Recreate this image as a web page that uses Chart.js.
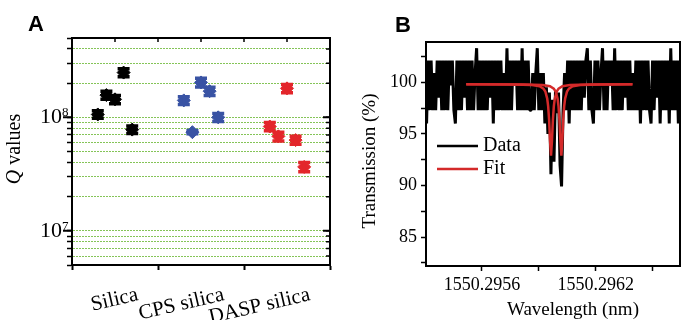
<!DOCTYPE html>
<html>
<head>
<meta charset="utf-8">
<script src="https://cdn.jsdelivr.net/npm/chart.js@4.4.0/dist/chart.umd.min.js"></script>
<style>
  html, body { margin: 0; padding: 0; background: #fff; }
  #wrap { position: relative; width: 681px; height: 320px; overflow: hidden; }
  #boxA { position: absolute; left: 0; top: 0; width: 340px; height: 320px; }
  #boxB { position: absolute; left: 340px; top: 0; width: 341px; height: 320px; }
</style>
</head>
<body>
<div id="wrap">
  <div id="boxA"><canvas id="qChart"></canvas></div>
  <div id="boxB"><canvas id="transChart"></canvas></div>
</div>
<script>
// panel A: Q values per material (5 devices each)
const categories = ['Silica', 'CPS silica', 'DASP silica'];
const sampleOffset = [-0.2, -0.1, 0, 0.1, 0.2];
const silicaQ = [1.06e8, 1.57e8, 1.44e8, 2.48e8, 0.78e8];
const silicaErr = [0.08e8, 0.13e8, 0.12e8, 0.2e8, 0.06e8];
const cpsQ = [1.41e8, 0.74e8, 2.03e8, 1.70e8, 1.00e8];
const cpsErr = [0.11e8, 0.025e8, 0.18e8, 0.14e8, 0.08e8];
const daspQ = [0.83e8, 0.68e8, 1.80e8, 0.63e8, 0.366e8];
const daspErr = [0.07e8, 0.06e8, 0.15e8, 0.05e8, 0.035e8];
const qPowers = [7, 8];
const topTicksA = [0, 0.5, 1, 1.5, 2];

// panel B: transmission spectrum, sampled every 8 fm from 1550.2953 nm
const wlStart = 1550.2953;
const wlStep = 0.000008;
const transData = [
  102.1, 96.0, 102.1, 97.3, 102.1, 97.3, 100.9, 97.3, 102.1, 98.5,
  102.1, 97.3, 102.1, 97.3, 102.1, 97.3, 102.1, 99.7, 102.1, 97.3,
  96.0, 102.1, 97.3, 102.1, 97.3, 102.1, 98.5, 102.1, 97.3, 102.1,
  97.3, 102.1, 97.3, 100.9, 103.3, 97.3, 102.1, 97.3, 102.1, 97.3,
  102.1, 97.3, 102.1, 98.5, 102.1, 96.0, 102.1, 97.3, 102.1, 97.3,
  102.1, 97.3, 100.9, 97.3, 103.3, 97.3, 102.1, 97.3, 102.1, 99.7,
  102.1, 97.3, 102.1, 97.3, 103.3, 97.3, 102.1, 97.3, 102.1, 97.3,
  97.3, 100.9, 97.3, 100.9, 103.3, 97.3, 100.9, 97.3, 100.9, 96.0,
  99.5, 95.0, 99.0, 91.1, 98.3, 92.3, 99.2, 97.0, 99.0, 92.0,
  89.9, 97.3, 100.9, 97.3, 102.1, 96.0, 102.1, 97.3, 102.1, 97.3,
  102.1, 97.3, 102.1, 97.3, 102.1, 98.5, 102.1, 103.3, 97.3, 102.1,
  97.3, 96.0, 102.1, 97.3, 102.1, 97.3, 100.9, 103.3, 97.3, 102.1,
  97.3, 102.1, 99.7, 102.1, 97.3, 103.3, 97.3, 102.1, 97.3, 102.1,
  97.3, 102.1, 98.5, 102.1, 97.3, 102.1, 97.3, 100.9, 97.3, 102.1,
  97.3, 102.1, 96.0, 102.1, 97.3, 102.1, 97.3, 102.1, 97.3, 96.0,
  102.1, 97.3, 102.1, 98.5, 102.1, 96.0, 102.1, 97.3, 102.1, 97.3,
  102.1, 96.0, 103.3, 97.3, 102.1, 97.3, 102.1, 96.0, 102.1, 97.3, 102.1
];
const fitWl1 = [1550.295517, 1550.2957643, 1550.2958643, 1550.2959043, 1550.2959243, 1550.2959343,
  1550.2959443, 1550.2959493, 1550.2959543, 1550.2959593, 1550.2959643, 1550.2959693, 1550.2959743,
  1550.2959793, 1550.2959843, 1550.2959943, 1550.2960043, 1550.2960243, 1550.2960643, 1550.2961643, 1550.296394];
const fitT1 = [99.8, 99.78, 99.73, 99.61, 99.39, 99.11, 98.42, 97.68, 96.35, 94.28, 92.9,
  94.28, 96.35, 97.68, 98.42, 99.11, 99.39, 99.61, 99.73, 99.78, 99.8];
const fitWl2 = [1550.295517, 1550.2958189, 1550.2959189, 1550.2959589, 1550.2959789, 1550.2959889,
  1550.2959989, 1550.2960039, 1550.2960089, 1550.2960139, 1550.2960189, 1550.2960239, 1550.2960289,
  1550.2960339, 1550.2960389, 1550.2960489, 1550.2960589, 1550.2960789, 1550.2961189, 1550.2962189, 1550.296394];
const fitT2 = [99.8, 99.78, 99.73, 99.61, 99.39, 99.11, 98.42, 97.68, 96.35, 94.28, 92.9,
  94.28, 96.35, 97.68, 98.42, 99.11, 99.39, 99.61, 99.73, 99.78, 99.8];

const SERIF = '"Liberation Serif", "Times New Roman", serif';
const SANS = '"Liberation Sans", Arial, sans-serif';

// error bars with caps, drawn through the y scale
const errorBars = {
  id: 'errorBars',
  afterDatasetsDraw(chart) {
    const ctx = chart.ctx;
    const yScale = chart.scales.y;
    chart.data.datasets.forEach((ds, i) => {
      const meta = chart.getDatasetMeta(i);
      ctx.save();
      ctx.strokeStyle = ds.borderColor;
      ctx.lineWidth = 3.5;
      meta.data.forEach((pt, j) => {
        const v = ds.data[j].y;
        const e = ds.errors[j];
        const yTop = yScale.getPixelForValue(v + e);
        const yBot = yScale.getPixelForValue(v - e);
        ctx.beginPath();
        ctx.moveTo(pt.x, yTop); ctx.lineTo(pt.x, yBot);
        ctx.moveTo(pt.x - 6, yTop); ctx.lineTo(pt.x + 6, yTop);
        ctx.moveTo(pt.x - 6, yBot); ctx.lineTo(pt.x + 6, yBot);
        ctx.stroke();
      });
      ctx.restore();
    });
  }
};

const decorA = {
  id: 'decorA',
  afterDraw(chart) {
    const {ctx, chartArea: a, scales: {x, y}} = chart;
    ctx.save();
    // top / right frame with inward ticks
    ctx.strokeStyle = '#000';
    ctx.lineWidth = 2;
    ctx.beginPath();
    ctx.moveTo(a.left - 1, a.top); ctx.lineTo(a.right, a.top); ctx.lineTo(a.right, a.bottom + 1);
    ctx.stroke();
    ctx.lineWidth = 1.5;
    ctx.beginPath();
    topTicksA.forEach(v => {
      const px = x.getPixelForValue(v);
      ctx.moveTo(px, a.top); ctx.lineTo(px, a.top + 4);
    });
    y.ticks.forEach(t => {
      const py = y.getPixelForValue(t.value);
      ctx.moveTo(a.right, py); ctx.lineTo(a.right - 4, py);
    });
    ctx.stroke();
    // longer marks and labels for the decades
    ctx.lineWidth = 2;
    qPowers.forEach(p => {
      const py = y.getPixelForValue(Math.pow(10, p));
      ctx.beginPath();
      ctx.moveTo(a.left - 9, py); ctx.lineTo(a.left, py);
      ctx.moveTo(a.right, py); ctx.lineTo(a.right - 7, py);
      ctx.stroke();
      ctx.fillStyle = '#000';
      ctx.textAlign = 'right';
      ctx.textBaseline = 'middle';
      ctx.font = '22px ' + SERIF;
      ctx.fillText('10', a.left - 10, py);
      ctx.textAlign = 'left';
      ctx.textBaseline = 'alphabetic';
      ctx.font = '13px ' + SERIF;
      ctx.fillText(String(p), a.left - 10, py - 1);
    });
    // category labels, slightly rotated
    ctx.font = '21px ' + SERIF;
    ctx.fillStyle = '#000';
    categories.forEach((c, i) => {
      ctx.save();
      ctx.translate(x.getPixelForValue(i) + 24, 300);
      ctx.rotate(-13 * Math.PI / 180);
      ctx.textAlign = 'right';
      ctx.textBaseline = 'alphabetic';
      ctx.fillText(c, 0, 0);
      ctx.restore();
    });
    // axis title with italic Q
    ctx.save();
    ctx.translate(15, 149);
    ctx.rotate(-Math.PI / 2);
    ctx.textBaseline = 'middle';
    ctx.textAlign = 'left';
    ctx.font = 'italic 20px ' + SERIF;
    const wq = ctx.measureText('Q').width;
    ctx.font = '20px ' + SERIF;
    const wr = ctx.measureText(' values').width;
    const sx = -(wq + wr) / 2;
    ctx.font = 'italic 20px ' + SERIF;
    ctx.fillText('Q', sx, 0);
    ctx.font = '20px ' + SERIF;
    ctx.fillText(' values', sx + wq, 0);
    ctx.restore();
    // panel letter
    ctx.font = 'bold 22px ' + SANS;
    ctx.textAlign = 'left';
    ctx.textBaseline = 'alphabetic';
    ctx.fillText('A', 28, 31);
    ctx.restore();
  }
};

const decorB = {
  id: 'decorB',
  afterDraw(chart) {
    const {ctx, chartArea: a} = chart;
    ctx.save();
    ctx.strokeStyle = '#000';
    ctx.lineWidth = 2;
    ctx.beginPath();
    ctx.moveTo(a.left - 1, a.top); ctx.lineTo(a.right - 1, a.top); ctx.lineTo(a.right - 1, a.bottom + 1);
    ctx.stroke();
    // legend
    const items = [['Data', '#000', 146], ['Fit', '#d42a2a', 169]];
    items.forEach(([txt, col, yy]) => {
      ctx.strokeStyle = col;
      ctx.lineWidth = 2.5;
      ctx.beginPath();
      ctx.moveTo(97, yy); ctx.lineTo(138, yy);
      ctx.stroke();
      ctx.fillStyle = '#000';
      ctx.font = '20px ' + SERIF;
      ctx.textAlign = 'left';
      ctx.textBaseline = 'middle';
      ctx.fillText(txt, 143, yy);
    });
    // axis titles
    ctx.fillStyle = '#000';
    ctx.font = '19px ' + SERIF;
    ctx.textAlign = 'center';
    ctx.textBaseline = 'middle';
    ctx.fillText('Wavelength (nm)', 233, 310);
    ctx.save();
    ctx.translate(30, 161);
    ctx.rotate(-Math.PI / 2);
    ctx.fillText('Transmission (%)', 0, 0);
    ctx.restore();
    ctx.font = 'bold 22px ' + SANS;
    ctx.textAlign = 'left';
    ctx.textBaseline = 'alphabetic';
    ctx.fillText('B', 55, 32);
    ctx.restore();
  }
};

function groupPoints(groupIndex, values) {
  return values.map((q, i) => ({x: groupIndex + sampleOffset[i], y: q}));
}

function isWholeMantissa(v) {
  const m = v / Math.pow(10, Math.floor(Math.log10(v) + 1e-9));
  return Math.abs(m - Math.round(m)) < 1e-6;
}

document.addEventListener('DOMContentLoaded', () => {
  // ✅ panel A
  const ctxA = document.getElementById('qChart');
  new Chart(ctxA, {
    type: 'scatter',
    data: {
      datasets: [
        {label: categories[0], data: groupPoints(0, silicaQ), errors: silicaErr, backgroundColor: '#000', borderColor: '#000'},
        {label: categories[1], data: groupPoints(1, cpsQ), errors: cpsErr, backgroundColor: '#3953a4', borderColor: '#3953a4'},
        {label: categories[2], data: groupPoints(2, daspQ), errors: daspErr, backgroundColor: '#e3262b', borderColor: '#e3262b'}
      ]
    },
    options: {
      responsive: true,
      maintainAspectRatio: false,
      animation: false,
      devicePixelRatio: 1,
      layout: {padding: {left: 0, top: 38, right: 10, bottom: 0}},
      elements: {point: {pointStyle: 'rectRot', radius: 6.5, borderWidth: 1}},
      plugins: {legend: {display: false}, tooltip: {enabled: false}},
      scales: {
        x: {
          type: 'linear', min: -0.5, max: 2.5,
          afterFit: s => { s.height = 55; },
          ticks: {display: false, stepSize: 1, includeBounds: false},
          grid: {drawOnChartArea: false, tickLength: 5, tickColor: '#000', tickWidth: 2},
          border: {color: '#000', width: 2}
        },
        y: {
          type: 'logarithmic', min: 5e6, max: 5e8,
          afterFit: s => { s.width = 72; },
          afterBuildTicks: s => { s.ticks = s.ticks.filter(t => isWholeMantissa(t.value)); },
          ticks: {autoSkip: false, callback: () => ''},
          grid: {color: 'rgba(120,190,70,0.9)', lineWidth: 1, tickColor: '#000', tickWidth: 1.5, tickLength: 5},
          border: {color: '#000', width: 2, dash: [2, 1]}
        }
      }
    },
    plugins: [errorBars, decorA]
  });

  // ✅ panel B
  const ctxB = document.getElementById('transChart');
  new Chart(ctxB, {
    type: 'scatter',
    data: {
      datasets: [
        {label: 'Fit', data: fitWl1.map((w, i) => ({x: w, y: fitT1[i]})), showLine: true, borderColor: '#d42a2a', borderWidth: 2.5, pointRadius: 0, order: 0},
        {label: 'Fit', data: fitWl2.map((w, i) => ({x: w, y: fitT2[i]})), showLine: true, borderColor: '#d42a2a', borderWidth: 2.5, pointRadius: 0, order: 0},
        {label: 'Data', data: transData.map((t, i) => ({x: wlStart + i * wlStep, y: t})), showLine: true, borderColor: '#000', borderWidth: 3, borderJoinStyle: 'bevel', pointRadius: 0, order: 1}
      ]
    },
    options: {
      responsive: true,
      maintainAspectRatio: false,
      animation: false,
      devicePixelRatio: 1,
      layout: {padding: {left: 0, top: 42, right: 0, bottom: 0}},
      plugins: {legend: {display: false}, tooltip: {enabled: false}},
      scales: {
        x: {
          type: 'linear', min: 1550.295305, max: 1550.29665,
          afterFit: s => { s.height = 54; },
          ticks: {
            stepSize: 0.0003, precision: 4, includeBounds: false, autoSkip: false, maxRotation: 0,
            color: '#000', font: {family: SERIF, size: 18}, padding: 3,
            callback: (v, i) => (i % 2 === 0 ? Number(v).toFixed(4) : '')
          },
          grid: {drawOnChartArea: false, tickLength: 5, tickColor: '#000', tickWidth: 1.5},
          border: {color: '#000', width: 2}
        },
        y: {
          min: 82.2, max: 103.9,
          afterFit: s => { s.width = 86; },
          ticks: {
            stepSize: 2.5, includeBounds: false, autoSkip: false,
            color: '#000', font: {family: SERIF, size: 18}, padding: 4,
            callback: v => (Math.abs(v % 5) < 1e-9 ? String(v) : '')
          },
          grid: {drawOnChartArea: false, tickLength: 5, tickColor: '#000', tickWidth: 1.5},
          border: {color: '#000', width: 2}
        }
      }
    },
    plugins: [decorB]
  });
});
</script>
</body>
</html>
